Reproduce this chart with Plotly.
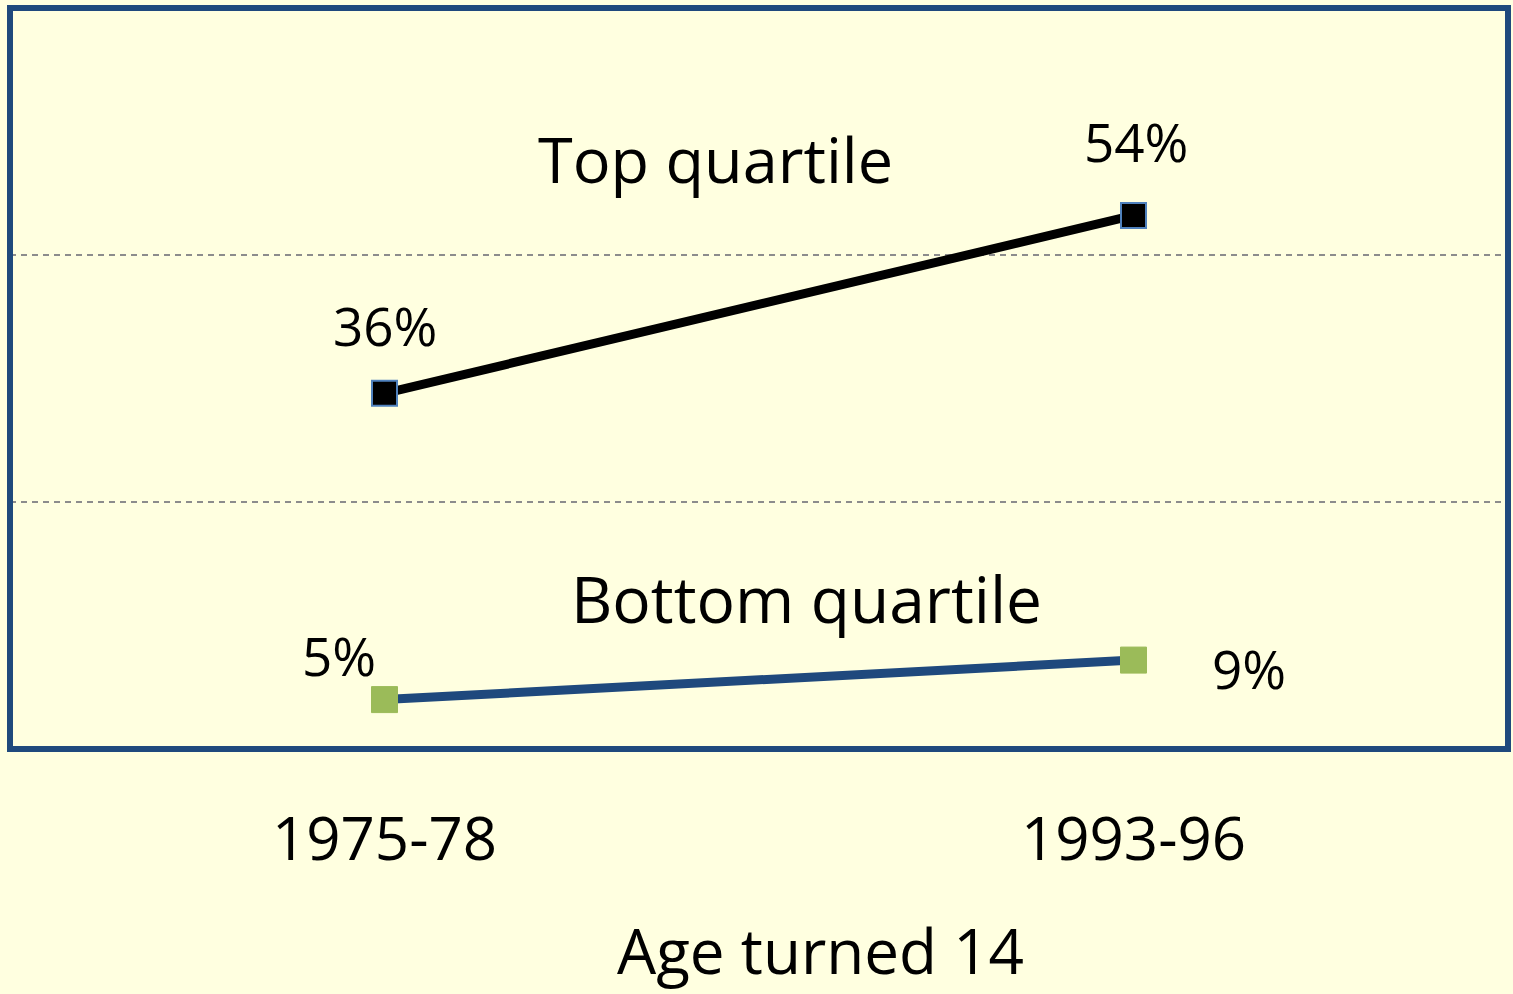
import plotly.graph_objects as go

periods = ["1975-78", "1993-96"]
top_quartile = [36, 54]
bottom_quartile = [5, 9]
top_labels = ["36%", "54%"]
bottom_labels = ["5%", "9%"]

FONT = "Open Sans"
BG = "#FFFFE0"
NAVY = "#1F497D"

fig = go.Figure()

fig.add_trace(go.Scatter(
    x=periods, y=top_quartile, mode="lines+markers",
    line=dict(color="black", width=9),
    marker=dict(symbol="square", size=25, color="black",
                line=dict(color="#4F81BD", width=2)),
    showlegend=False, hoverinfo="skip"))

fig.add_trace(go.Scatter(
    x=periods, y=bottom_quartile, mode="lines+markers",
    line=dict(color=NAVY, width=9),
    marker=dict(symbol="square", size=26, color="#9BBB59",
                line=dict(color="#9BBB59", width=1)),
    showlegend=False, hoverinfo="skip"))

annots = []
top_offsets = [(0, 68), (2, 74)]
bot_offsets = [(-46, 44), (115, -8)]
for i in range(2):
    annots.append(dict(x=periods[i], y=top_quartile[i], text=top_labels[i],
                       showarrow=False, xshift=top_offsets[i][0], yshift=top_offsets[i][1],
                       font=dict(family=FONT, size=53, color="black")))
    annots.append(dict(x=periods[i], y=bottom_quartile[i], text=bottom_labels[i],
                       showarrow=False, xshift=bot_offsets[i][0], yshift=bot_offsets[i][1],
                       font=dict(family=FONT, size=53, color="black")))
annots.append(dict(x=0.4414, y=59.8, xref="x", yref="y", text="Top quartile",
                   showarrow=False, font=dict(family=FONT, size=63, color="black")))
annots.append(dict(x=0.564, y=15.2, xref="x", yref="y", text="Bottom quartile",
                   showarrow=False, font=dict(family=FONT, size=64, color="black")))
# x-axis title (offset right of centre as in the original)
annots.append(dict(x=0.541, y=0, xref="paper", yref="paper", text="Age turned 14",
                   showarrow=False, xanchor="center", yanchor="bottom",
                   yshift=-245, font=dict(family=FONT, size=62, color="black")))

fig.update_layout(
    width=1513, height=994,
    margin=dict(l=10, r=5, t=8, b=245),
    paper_bgcolor=BG, plot_bgcolor=BG,
    annotations=annots,
    xaxis=dict(range=[-0.5, 1.5], showgrid=False, zeroline=False,
               tickfont=dict(family=FONT, size=60, color="black"),
               ticks="outside", ticklen=38, tickcolor="rgba(0,0,0,0)",
               showline=False),
    yaxis=dict(range=[0, 75], tickvals=[25, 50], showticklabels=False,
               showgrid=True, gridcolor="#8C8C8C", gridwidth=2, griddash="6px,5px",
               zeroline=False, showline=False),
    shapes=[dict(type="rect", xref="paper", yref="paper", x0=0, x1=1, y0=0, y1=1,
                 line=dict(color=NAVY, width=6), layer="above")],
)

fig.write_html("out.html", config={"displayModeBar": False},
               post_script="document.body.style.margin='0';document.body.style.background='#FFFFE0';")
